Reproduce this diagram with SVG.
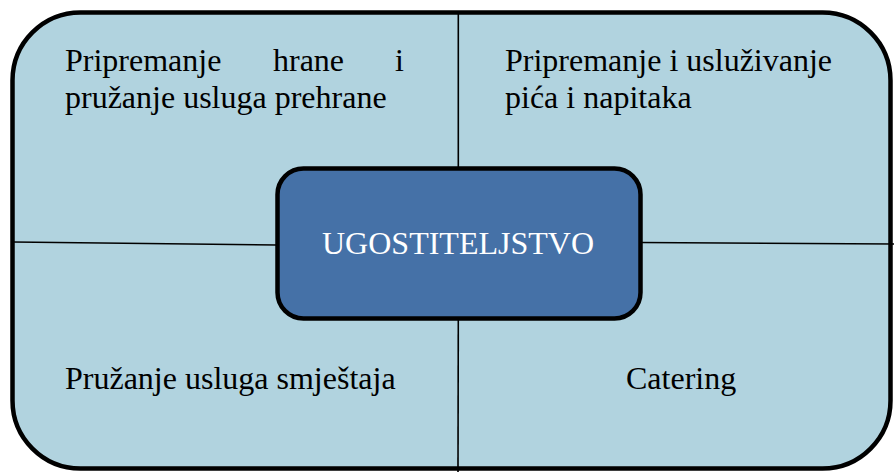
<svg xmlns="http://www.w3.org/2000/svg" width="894" height="472" viewBox="0 0 894 472">
<style>
.t{font-family:"Liberation Serif","Times New Roman",serif;font-size:32px;fill:#000}
.c{font-family:"Liberation Serif","Times New Roman",serif;font-size:32px;fill:#fff}
.ln{stroke:#000;stroke-width:1.6;fill:none}
</style>
<rect width="894" height="472" fill="#fff"/>
<g id="background">
<rect x="12.5" y="12.5" width="878" height="456" rx="68" ry="68" fill="#b1d3df" stroke="#000" stroke-width="4.5"/>
</g>
<g id="connectors">
<line class="ln" x1="458.3" y1="14" x2="458.3" y2="168"/>
<line class="ln" x1="458.3" y1="319" x2="458" y2="472"/>
<line class="ln" x1="13" y1="242" x2="277" y2="245"/>
<line class="ln" x1="640" y1="242.5" x2="894" y2="244"/>
</g>
<g id="center">
<rect x="277.5" y="168.5" width="363" height="150" rx="26" ry="26" fill="#4571a7" stroke="#000" stroke-width="4.5"/>
<text class="c" x="458" y="254" text-anchor="middle">UGOSTITELJSTVO</text>
</g>
<g id="top-left">
<text class="t" x="65" y="71">Pripremanje</text>
<text class="t" x="273" y="71">hrane</text>
<text class="t" x="395" y="71">i</text>
<text class="t" x="65" y="108">pružanje usluga prehrane</text>
</g>
<g id="top-right">
<text class="t" x="505" y="71">Pripremanje i usluživanje</text>
<text class="t" x="505" y="108">pića i napitaka</text>
</g>
<g id="bottom-left">
<text class="t" x="65" y="389">Pružanje usluga smještaja</text>
</g>
<g id="bottom-right">
<text class="t" x="626" y="389">Catering</text>
</g>
</svg>
